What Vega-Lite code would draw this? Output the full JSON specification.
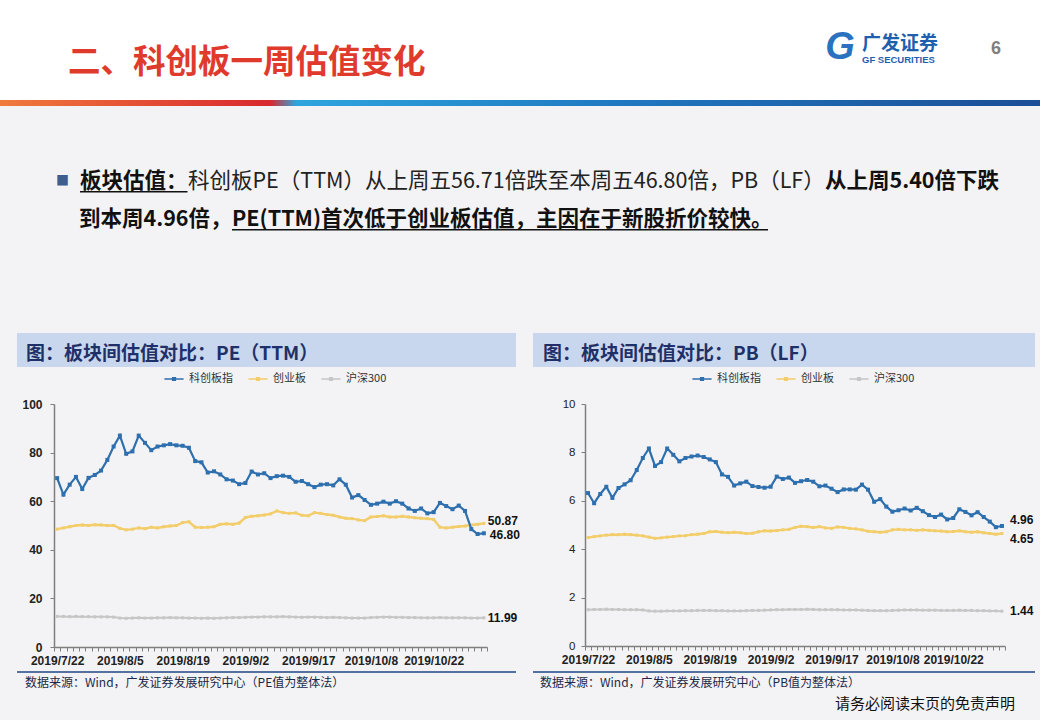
{
"$schema": "https://vega.github.io/schema/vega-lite/v6.json",
"background": "#f3f3f5",
"padding": {"left": 0, "top": 0, "right": 0, "bottom": 9.5},
"spacing": 0,
"resolve": {"scale": {"color": "independent"}, "legend": {"color": "independent"}},
"config": {"view": {"stroke": null}, "font": "Noto Sans CJK SC", "title": {"baseline": "top", "anchor": "start"}},
"datasets": {
"pe": [
{"d":"2019/7/22","科创板指":69.5,"创业板":48.5,"沪深300":12.6},
{"d":"2019/7/23","科创板指":62.7,"创业板":49.0,"沪深300":12.6},
{"d":"2019/7/24","科创板指":66.8,"创业板":49.5,"沪深300":12.5},
{"d":"2019/7/25","科创板指":70.0,"创业板":50.0,"沪深300":12.6},
{"d":"2019/7/26","科创板指":65.0,"创业板":50.2,"沪深300":12.5},
{"d":"2019/7/29","科创板指":69.6,"创业板":50.0,"沪深300":12.5},
{"d":"2019/7/30","科创板指":70.8,"创业板":50.3,"沪深300":12.4},
{"d":"2019/7/31","科创板指":72.6,"创业板":50.2,"沪深300":12.4},
{"d":"2019/8/1","科创板指":77.0,"创业板":50.0,"沪深300":12.4},
{"d":"2019/8/2","科创板指":82.5,"创业板":50.0,"沪深300":12.3},
{"d":"2019/8/5","科创板指":87.0,"创业板":48.8,"沪深300":11.9},
{"d":"2019/8/6","科创板指":79.5,"创业板":48.2,"沪深300":11.8},
{"d":"2019/8/7","科创板指":80.5,"创业板":48.5,"沪深300":11.9},
{"d":"2019/8/8","科创板指":87.0,"创业板":49.0,"沪深300":12.0},
{"d":"2019/8/9","科创板指":84.0,"创业板":48.7,"沪深300":11.9},
{"d":"2019/8/12","科创板指":81.0,"创业板":49.3,"沪深300":11.9},
{"d":"2019/8/13","科创板指":82.5,"创业板":49.0,"沪深300":12.0},
{"d":"2019/8/14","科创板指":83.0,"创业板":49.5,"沪深300":12.0},
{"d":"2019/8/15","科创板指":83.5,"创业板":49.8,"沪深300":12.1},
{"d":"2019/8/16","科创板指":83.0,"创业板":50.0,"沪深300":12.0},
{"d":"2019/8/19","科创板指":82.8,"创业板":51.2,"沪深300":12.0},
{"d":"2019/8/20","科创板指":82.0,"创业板":51.5,"沪深300":11.9},
{"d":"2019/8/21","科创板指":76.5,"创业板":49.3,"沪深300":11.9},
{"d":"2019/8/22","科创板指":76.0,"创业板":49.2,"沪深300":11.8},
{"d":"2019/8/23","科创板指":71.8,"创业板":49.3,"沪深300":11.9},
{"d":"2019/8/26","科创板指":72.3,"创业板":49.5,"沪深300":11.8},
{"d":"2019/8/27","科创板指":71.0,"创业板":50.5,"沪深300":11.9},
{"d":"2019/8/28","科创板指":69.0,"创业板":50.7,"沪深300":12.0},
{"d":"2019/8/29","科创板指":68.5,"创业板":50.5,"沪深300":12.1},
{"d":"2019/8/30","科创板指":67.0,"创业板":51.0,"沪深300":12.1},
{"d":"2019/9/2","科创板指":67.5,"创业板":53.3,"沪深300":12.2},
{"d":"2019/9/3","科创板指":72.2,"创业板":53.8,"沪深300":12.3},
{"d":"2019/9/4","科创板指":71.0,"创业板":54.0,"沪深300":12.3},
{"d":"2019/9/5","科创板指":71.5,"创业板":54.3,"沪深300":12.4},
{"d":"2019/9/6","科创板指":69.5,"创业板":54.8,"沪深300":12.4},
{"d":"2019/9/9","科创板指":70.3,"创业板":56.0,"沪深300":12.4},
{"d":"2019/9/10","科创板指":70.5,"创业板":55.3,"沪深300":12.5},
{"d":"2019/9/11","科创板指":70.0,"创业板":55.0,"沪深300":12.4},
{"d":"2019/9/12","科创板指":68.0,"创业板":55.2,"沪深300":12.3},
{"d":"2019/9/16","科创板指":68.3,"创业板":54.2,"沪深300":12.2},
{"d":"2019/9/17","科创板指":67.0,"创业板":54.0,"沪深300":12.3},
{"d":"2019/9/18","科创板指":65.8,"创业板":55.3,"沪深300":12.3},
{"d":"2019/9/19","科创板指":66.8,"创业板":55.0,"沪深300":12.2},
{"d":"2019/9/20","科创板指":67.0,"创业板":54.5,"沪深300":12.1},
{"d":"2019/9/23","科创板指":66.5,"创业板":54.2,"沪深300":12.2},
{"d":"2019/9/24","科创板指":69.0,"创业板":53.5,"沪深300":12.1},
{"d":"2019/9/25","科创板指":66.8,"创业板":53.0,"沪深300":12.0},
{"d":"2019/9/26","科创板指":61.5,"创业板":52.8,"沪深300":11.9},
{"d":"2019/9/27","科创板指":62.5,"创业板":52.3,"沪深300":11.9},
{"d":"2019/9/30","科创板指":60.5,"创业板":52.0,"沪深300":11.9},
{"d":"2019/10/8","科创板指":58.5,"创业板":53.5,"沪深300":12.1},
{"d":"2019/10/9","科创板指":59.0,"创业板":53.7,"沪深300":12.2},
{"d":"2019/10/10","科创板指":59.8,"创业板":54.0,"沪深300":12.3},
{"d":"2019/10/11","科创板指":59.0,"创业板":53.5,"沪深300":12.3},
{"d":"2019/10/14","科创板指":60.0,"创业板":53.5,"沪深300":12.2},
{"d":"2019/10/15","科创板指":59.0,"创业板":53.8,"沪深300":12.2},
{"d":"2019/10/16","科创板指":57.0,"创业板":53.5,"沪深300":12.1},
{"d":"2019/10/17","科创板指":56.0,"创业板":53.2,"沪深300":12.1},
{"d":"2019/10/18","科创板指":57.0,"创业板":53.0,"沪深300":12.0},
{"d":"2019/10/21","科创板指":55.0,"创业板":52.8,"沪深300":12.0},
{"d":"2019/10/22","科创板指":55.5,"创业板":52.5,"沪深300":12.0},
{"d":"2019/10/23","科创板指":59.3,"创业板":49.3,"沪深300":12.1},
{"d":"2019/10/24","科创板指":58.0,"创业板":49.0,"沪深300":12.0},
{"d":"2019/10/25","科创板指":56.71,"创业板":49.3,"沪深300":12.0},
{"d":"2019/10/28","科创板指":58.2,"创业板":49.6,"沪深300":12.0},
{"d":"2019/10/29","科创板指":56.0,"创业板":49.8,"沪深300":12.0},
{"d":"2019/10/30","科创板指":48.5,"创业板":50.2,"沪深300":11.9},
{"d":"2019/10/31","科创板指":46.5,"创业板":50.5,"沪深300":11.9},
{"d":"2019/11/1","科创板指":46.80,"创业板":50.87,"沪深300":11.99}
],
"pb": [
{"d":"2019/7/22","科创板指":6.32,"创业板":4.48,"沪深300":1.50},
{"d":"2019/7/23","科创板指":5.90,"创业板":4.52,"沪深300":1.51},
{"d":"2019/7/24","科创板指":6.28,"创业板":4.55,"沪深300":1.51},
{"d":"2019/7/25","科创板指":6.58,"创业板":4.58,"沪深300":1.52},
{"d":"2019/7/26","科创板指":6.12,"创业板":4.60,"沪深300":1.51},
{"d":"2019/7/29","科创板指":6.53,"创业板":4.60,"沪深300":1.51},
{"d":"2019/7/30","科创板指":6.68,"创业板":4.62,"沪深300":1.50},
{"d":"2019/7/31","科创板指":6.85,"创业板":4.60,"沪深300":1.50},
{"d":"2019/8/1","科创板指":7.27,"创业板":4.58,"沪深300":1.50},
{"d":"2019/8/2","科创板指":7.77,"创业板":4.55,"沪深300":1.49},
{"d":"2019/8/5","科创板指":8.16,"创业板":4.50,"沪深300":1.45},
{"d":"2019/8/6","科创板指":7.44,"创业板":4.45,"沪深300":1.44},
{"d":"2019/8/7","科创板指":7.60,"创业板":4.47,"沪深300":1.44},
{"d":"2019/8/8","科创板指":8.16,"创业板":4.50,"沪深300":1.45},
{"d":"2019/8/9","科创板指":7.90,"创业板":4.52,"沪深300":1.45},
{"d":"2019/8/12","科创板指":7.63,"创业板":4.55,"沪深300":1.45},
{"d":"2019/8/13","科创板指":7.77,"创业板":4.56,"沪深300":1.46},
{"d":"2019/8/14","科创板指":7.83,"创业板":4.60,"沪深300":1.46},
{"d":"2019/8/15","科创板指":7.87,"创业板":4.62,"沪深300":1.47},
{"d":"2019/8/16","科创板指":7.81,"创业板":4.65,"沪深300":1.47},
{"d":"2019/8/19","科创板指":7.71,"创业板":4.72,"沪深300":1.47},
{"d":"2019/8/20","科创板指":7.60,"创业板":4.73,"沪深300":1.46},
{"d":"2019/8/21","科创板指":7.09,"创业板":4.70,"沪深300":1.46},
{"d":"2019/8/22","科创板指":6.99,"创业板":4.68,"沪深300":1.45},
{"d":"2019/8/23","科创板指":6.63,"创业板":4.70,"沪深300":1.45},
{"d":"2019/8/26","科创板指":6.72,"创业板":4.68,"沪深300":1.45},
{"d":"2019/8/27","科创板指":6.79,"创业板":4.65,"沪深300":1.46},
{"d":"2019/8/28","科创板指":6.61,"创业板":4.66,"沪深300":1.47},
{"d":"2019/8/29","科创板指":6.57,"创业板":4.72,"沪深300":1.47},
{"d":"2019/8/30","科创板指":6.54,"创业板":4.76,"沪深300":1.48},
{"d":"2019/9/2","科创板指":6.58,"创业板":4.75,"沪深300":1.49},
{"d":"2019/9/3","科创板指":7.00,"创业板":4.77,"沪深300":1.50},
{"d":"2019/9/4","科创板指":6.90,"创业板":4.80,"沪深300":1.50},
{"d":"2019/9/5","科创板指":6.96,"创业板":4.82,"沪深300":1.51},
{"d":"2019/9/6","科创板指":6.74,"创业板":4.90,"沪深300":1.51},
{"d":"2019/9/9","科创板指":6.81,"创业板":4.95,"沪深300":1.51},
{"d":"2019/9/10","科创板指":6.86,"创业板":4.93,"沪深300":1.52},
{"d":"2019/9/11","科创板指":6.79,"创业板":4.90,"沪深300":1.51},
{"d":"2019/9/12","科创板指":6.60,"创业板":4.93,"沪深300":1.50},
{"d":"2019/9/16","科创板指":6.63,"创业板":4.88,"沪深300":1.50},
{"d":"2019/9/17","科创板指":6.50,"创业板":4.86,"沪深300":1.50},
{"d":"2019/9/18","科创板指":6.36,"创业板":4.92,"沪深300":1.50},
{"d":"2019/9/19","科创板指":6.47,"创业板":4.90,"沪深300":1.49},
{"d":"2019/9/20","科创板指":6.47,"创业板":4.86,"沪深300":1.49},
{"d":"2019/9/23","科创板指":6.46,"创业板":4.84,"沪深300":1.49},
{"d":"2019/9/24","科创板指":6.67,"创业板":4.80,"沪深300":1.48},
{"d":"2019/9/25","科创板指":6.46,"创业板":4.74,"沪深300":1.47},
{"d":"2019/9/26","科创板指":5.96,"创业板":4.72,"沪深300":1.46},
{"d":"2019/9/27","科创板指":6.07,"创业板":4.70,"沪深300":1.46},
{"d":"2019/9/30","科创板指":5.76,"创业板":4.72,"沪深300":1.46},
{"d":"2019/10/8","科创板指":5.55,"创业板":4.80,"沪深300":1.47},
{"d":"2019/10/9","科创板指":5.61,"创业板":4.82,"沪深300":1.48},
{"d":"2019/10/10","科创板指":5.68,"创业板":4.80,"沪深300":1.49},
{"d":"2019/10/11","科创板指":5.60,"创业板":4.80,"沪深300":1.49},
{"d":"2019/10/14","科创板指":5.71,"创业板":4.78,"沪深300":1.49},
{"d":"2019/10/15","科创板指":5.57,"创业板":4.80,"沪深300":1.48},
{"d":"2019/10/16","科创板指":5.41,"创业板":4.78,"沪深300":1.48},
{"d":"2019/10/17","科创板指":5.33,"创业板":4.76,"沪深300":1.48},
{"d":"2019/10/18","科创板指":5.43,"创业板":4.75,"沪深300":1.47},
{"d":"2019/10/21","科创板指":5.23,"创业板":4.72,"沪深300":1.47},
{"d":"2019/10/22","科创板指":5.29,"创业板":4.73,"沪深300":1.47},
{"d":"2019/10/23","科创板指":5.65,"创业板":4.76,"沪深300":1.48},
{"d":"2019/10/24","科创板指":5.54,"创业板":4.72,"沪深300":1.47},
{"d":"2019/10/25","科创板指":5.40,"创业板":4.70,"沪深300":1.47},
{"d":"2019/10/28","科创板指":5.53,"创业板":4.72,"沪深300":1.46},
{"d":"2019/10/29","科创板指":5.33,"创业板":4.68,"沪深300":1.46},
{"d":"2019/10/30","科创板指":5.14,"创业板":4.65,"沪深300":1.45},
{"d":"2019/10/31","科创板指":4.91,"创业板":4.62,"沪深300":1.45},
{"d":"2019/11/1","科创板指":4.96,"创业板":4.65,"沪深300":1.44}
]
},
"vconcat": [
{"hconcat": [
 {"width": 823, "height": 100, "data": {"values": [{}]}, "mark": {"type": "rect", "fill": "#ffffff"}, "encoding": {},
  "title": {"text": "二、科创板一周估值变化", "anchor": "start", "offset": -79.5, "dx": 68, "fontSize": 32.5, "fontWeight": "bold", "color": "#e03a2c", "font": "Noto Sans CJK SC"}},
 {"width": 34, "height": 100, "data": {"values": [{"g": "G"}]},
  "layer": [
   {"mark": {"type": "rect", "fill": "#ffffff"}, "encoding": {}},
   {"mark": {"type": "text", "font": "Liberation Sans", "fontWeight": "bold", "fontStyle": "italic", "fontSize": 38, "dy": -2, "color": "#2a72c0"}, "encoding": {"text": {"field": "g"}}}
  ]},
 {"width": 93, "height": 100, "data": {"values": [{}]}, "mark": {"type": "rect", "fill": "#ffffff"}, "encoding": {},
  "title": {"text": "广发证券", "subtitle": "GF SECURITIES", "anchor": "start", "offset": -64, "dx": 5, "fontSize": 19, "fontWeight": "bold", "color": "#1f5fae", "font": "Noto Sans CJK SC", "subtitleFont": "Liberation Sans", "subtitleFontSize": 9.5, "subtitleFontWeight": "bold", "subtitleColor": "#1f5fae", "subtitlePadding": 1}},
 {"width": 90, "height": 100, "data": {"values": [{}]}, "mark": {"type": "rect", "fill": "#ffffff"}, "encoding": {},
  "title": {"text": "6", "anchor": "start", "offset": -58, "dx": 41, "fontSize": 18, "fontWeight": "bold", "color": "#7f7f7f", "font": "Liberation Sans"}}
], "spacing": 0},
{"width": 1040, "height": 6, "data": {"values": [{}]}, "mark": {"type": "rect", "fill": {"gradient": "linear", "x1": 0, "y1": 0, "x2": 1, "y2": 0, "stops": [{"offset": 0, "color": "#f07a3c"}, {"offset": 0.26, "color": "#d8282e"}, {"offset": 0.285, "color": "#2ea5de"}, {"offset": 0.6, "color": "#1f78c0"}, {"offset": 1, "color": "#1b4e96"}]}}, "encoding": {}},
{"width": 1040, "height": 63.1, "data": {"values": [{}]}, "mark": {"type": "rect", "opacity": 0}, "encoding": {}},
{"hconcat": [
 {"width": 56, "height": 1, "data": {"values": [{}]}, "mark": {"type": "rect", "opacity": 0}, "encoding": {}},
 {"width": 1, "height": 1.5, "data": {"values": [{}]}, "mark": {"type": "rect", "opacity": 0}, "encoding": {},
  "title": {"text": "■", "anchor": "start", "offset": 3.2, "fontSize": 13, "fontWeight": "normal", "color": "#3e5e92", "font": "Noto Sans CJK SC"}},
 {"width": 10, "height": 1, "data": {"values": [{}]}, "mark": {"type": "rect", "opacity": 0}, "encoding": {}},
 {"width": 107.5, "height": 1.5, "data": {"values": [{}]}, "mark": {"type": "rect", "fill": "#111111"}, "encoding": {},
  "title": {"text": "板块估值：", "anchor": "start", "offset": -1, "fontSize": 21.5, "fontWeight": "bold", "color": "#111111", "font": "Noto Sans CJK SC"}},
 {"width": 1, "height": 1.5, "data": {"values": [{}]}, "mark": {"type": "rect", "opacity": 0}, "encoding": {},
  "title": {"text": "科创板PE（TTM）从上周五56.71倍跌至本周五46.80倍，PB（LF）", "anchor": "start", "offset": -1, "fontSize": 21.5, "fontWeight": "normal", "color": "#222222", "font": "Noto Sans CJK SC"}},
 {"width": 1, "height": 1.5, "data": {"values": [{}]}, "mark": {"type": "rect", "opacity": 0}, "encoding": {},
  "title": {"text": "从上周5.40倍下跌", "anchor": "start", "offset": -1, "fontSize": 21.5, "fontWeight": "bold", "color": "#111111", "font": "Noto Sans CJK SC"}}
], "spacing": 0},
{"width": 10, "height": 15, "data": {"values": [{}]}, "mark": {"type": "rect", "opacity": 0}, "encoding": {}},
{"hconcat": [
 {"width": 79, "height": 1, "data": {"values": [{}]}, "mark": {"type": "rect", "opacity": 0}, "encoding": {}},
 {"width": 1, "height": 1.5, "data": {"values": [{}]}, "mark": {"type": "rect", "opacity": 0}, "encoding": {},
  "title": {"text": "到本周4.96倍，", "anchor": "start", "offset": -1, "fontSize": 21.5, "fontWeight": "bold", "color": "#111111", "font": "Noto Sans CJK SC"}},
 {"width": 536, "height": 1.5, "data": {"values": [{}]}, "mark": {"type": "rect", "fill": "#111111"}, "encoding": {},
  "title": {"text": "PE(TTM)首次低于创业板估值，主因在于新股折价较快。", "anchor": "start", "offset": -1, "fontSize": 21.5, "fontWeight": "bold", "color": "#111111", "font": "Noto Sans CJK SC"}}
], "spacing": 0},
{"width": 10, "height": 102, "data": {"values": [{}]}, "mark": {"type": "rect", "opacity": 0}, "encoding": {}},
{"hconcat": [
 {"width": 17, "height": 1, "data": {"values": [{}]}, "mark": {"type": "rect", "opacity": 0}, "encoding": {}},
 {"width": 499, "height": 34, "data": {"values": [{}]}, "mark": {"type": "rect", "fill": "#c9d7ee"}, "encoding": {},
  "title": {"text": "图：板块间估值对比：PE（TTM）", "anchor": "start", "offset": -30.5, "dx": 9, "fontSize": 19, "fontWeight": "bold", "color": "#1f3068", "font": "Noto Sans CJK SC"}},
 {"width": 17, "height": 1, "data": {"values": [{}]}, "mark": {"type": "rect", "opacity": 0}, "encoding": {}},
 {"width": 502, "height": 34, "data": {"values": [{}]}, "mark": {"type": "rect", "fill": "#c9d7ee"}, "encoding": {},
  "title": {"text": "图：板块间估值对比：PB（LF）", "anchor": "start", "offset": -30.5, "dx": 10, "fontSize": 19, "fontWeight": "bold", "color": "#1f3068", "font": "Noto Sans CJK SC"}}
], "spacing": 0},
{"width": 10, "height": 5, "data": {"values": [{}]}, "mark": {"type": "rect", "opacity": 0}, "encoding": {}},
{"hconcat": [
  {"width": 17, "height": 1, "data": {"values": [{}]}, "mark": {"type": "rect", "opacity": 0}, "encoding": {}},
  {"width": 433, "height": 243,
   "data": {"name": "pe"},
   "transform": [{"fold": ["科创板指", "创业板", "沪深300"], "as": ["s", "v"]}],
   "encoding": {
    "x": {"field": "d", "type": "nominal",
      "scale": {"type": "band", "paddingInner": 0, "paddingOuter": 0, "domain": ["2019/7/22","2019/7/23","2019/7/24","2019/7/25","2019/7/26","2019/7/29","2019/7/30","2019/7/31","2019/8/1","2019/8/2","2019/8/5","2019/8/6","2019/8/7","2019/8/8","2019/8/9","2019/8/12","2019/8/13","2019/8/14","2019/8/15","2019/8/16","2019/8/19","2019/8/20","2019/8/21","2019/8/22","2019/8/23","2019/8/26","2019/8/27","2019/8/28","2019/8/29","2019/8/30","2019/9/2","2019/9/3","2019/9/4","2019/9/5","2019/9/6","2019/9/9","2019/9/10","2019/9/11","2019/9/12","2019/9/16","2019/9/17","2019/9/18","2019/9/19","2019/9/20","2019/9/23","2019/9/24","2019/9/25","2019/9/26","2019/9/27","2019/9/30","2019/10/8","2019/10/9","2019/10/10","2019/10/11","2019/10/14","2019/10/15","2019/10/16","2019/10/17","2019/10/18","2019/10/21","2019/10/22","2019/10/23","2019/10/24","2019/10/25","2019/10/28","2019/10/29","2019/10/30","2019/10/31","2019/11/1"]},
      "axis": {"title": null, "labelExpr": "indexof(['2019/7/22','2019/8/5','2019/8/19','2019/9/2','2019/9/17','2019/10/8','2019/10/22'], datum.value) >= 0 ? datum.value : ''", "labelAngle": 0, "labelOverlap": false, "labelFlush": false, "tickBand": "extent", "tickSize": 4, "labelPadding": 4, "labelFont": "Liberation Sans", "labelFontWeight": "bold", "labelFontSize": 12, "labelColor": "#222222", "domainColor": "#7f7f7f", "tickColor": "#7f7f7f", "domainWidth": 1.5, "grid": false}},
    "y": {"field": "v", "type": "quantitative", "scale": {"domain": [0, 100], "nice": false},
      "axis": {"title": null, "values": [0, 20, 40, 60, 80, 100], "grid": false, "tickSize": 4, "labelPadding": 8, "labelFont": "Liberation Sans", "labelFontWeight": "bold", "labelFontSize": 12, "labelColor": "#222222", "domainColor": "#7f7f7f", "tickColor": "#7f7f7f", "domainWidth": 1.5, "minExtent": 37, "maxExtent": 37}},
    "color": {"field": "s", "type": "nominal", "scale": {"domain": ["科创板指", "创业板", "沪深300"], "range": ["#2e6fae", "#f2cd6a", "#c6c6c6"]},
      "legend": {"orient": "none", "legendX": 113, "legendY": -32, "direction": "horizontal", "title": null, "symbolType": "M-1.6,0H1.6M-0.22,-0.22H0.22V0.22H-0.22Z", "symbolSize": 144, "symbolStrokeWidth": 1.6, "labelFont": "Noto Sans CJK SC", "labelFontSize": 11, "labelColor": "#333333", "columnPadding": 12, "labelOffset": 8}}
   },
   "layer": [
    {"transform": [{"filter": "datum.s === '沪深300'"}], "mark": {"type": "line", "strokeWidth": 2, "point": {"shape": "square", "size": 9, "filled": true}}},
    {"transform": [{"filter": "datum.s === '创业板'"}], "mark": {"type": "line", "strokeWidth": 2.4, "point": {"shape": "square", "size": 9, "filled": true}}},
    {"transform": [{"filter": "datum.s === '科创板指'"}], "mark": {"type": "line", "strokeWidth": 2.2, "point": {"shape": "square", "size": 16, "filled": true}}},
    {"transform": [{"filter": "datum.d === '2019/11/1' && datum.s === '沪深300'"}], "mark": {"type": "text", "align": "left", "baseline": "middle", "dx": 4, "font": "Liberation Sans", "fontWeight": "bold", "fontSize": 12},
     "encoding": {"text": {"field": "v", "type": "quantitative", "format": ".2f"}, "color": {"value": "#111111"}}},
    {"transform": [{"filter": "datum.d === '2019/11/1' && datum.s === '创业板'"}], "mark": {"type": "text", "align": "left", "baseline": "middle", "dx": 4, "dy": -2, "font": "Liberation Sans", "fontWeight": "bold", "fontSize": 12},
     "encoding": {"text": {"field": "v", "type": "quantitative", "format": ".2f"}, "color": {"value": "#111111"}}},
    {"transform": [{"filter": "datum.d === '2019/11/1' && datum.s === '科创板指'"}], "mark": {"type": "text", "align": "left", "baseline": "middle", "dx": 6, "dy": 1.5, "font": "Liberation Sans", "fontWeight": "bold", "fontSize": 12},
     "encoding": {"text": {"field": "v", "type": "quantitative", "format": ".2f"}, "color": {"value": "#111111"}}}
   ]
  },
  {"width": 15, "height": 1, "data": {"values": [{}]}, "mark": {"type": "rect", "opacity": 0}, "encoding": {}},
  {"width": 420, "height": 242,
   "data": {"name": "pb"},
   "transform": [{"fold": ["科创板指", "创业板", "沪深300"], "as": ["s", "v"]}],
   "encoding": {
    "x": {"field": "d", "type": "nominal",
      "scale": {"type": "band", "paddingInner": 0, "paddingOuter": 0, "domain": ["2019/7/22","2019/7/23","2019/7/24","2019/7/25","2019/7/26","2019/7/29","2019/7/30","2019/7/31","2019/8/1","2019/8/2","2019/8/5","2019/8/6","2019/8/7","2019/8/8","2019/8/9","2019/8/12","2019/8/13","2019/8/14","2019/8/15","2019/8/16","2019/8/19","2019/8/20","2019/8/21","2019/8/22","2019/8/23","2019/8/26","2019/8/27","2019/8/28","2019/8/29","2019/8/30","2019/9/2","2019/9/3","2019/9/4","2019/9/5","2019/9/6","2019/9/9","2019/9/10","2019/9/11","2019/9/12","2019/9/16","2019/9/17","2019/9/18","2019/9/19","2019/9/20","2019/9/23","2019/9/24","2019/9/25","2019/9/26","2019/9/27","2019/9/30","2019/10/8","2019/10/9","2019/10/10","2019/10/11","2019/10/14","2019/10/15","2019/10/16","2019/10/17","2019/10/18","2019/10/21","2019/10/22","2019/10/23","2019/10/24","2019/10/25","2019/10/28","2019/10/29","2019/10/30","2019/10/31","2019/11/1"]},
      "axis": {"title": null, "labelExpr": "indexof(['2019/7/22','2019/8/5','2019/8/19','2019/9/2','2019/9/17','2019/10/8','2019/10/22'], datum.value) >= 0 ? datum.value : ''", "labelAngle": 0, "labelOverlap": false, "labelFlush": false, "tickBand": "extent", "tickSize": 4, "labelPadding": 4, "labelFont": "Liberation Sans", "labelFontWeight": "bold", "labelFontSize": 12, "labelColor": "#222222", "domainColor": "#7f7f7f", "tickColor": "#7f7f7f", "domainWidth": 1.5, "grid": false}},
    "y": {"field": "v", "type": "quantitative", "scale": {"domain": [0, 10], "nice": false},
      "axis": {"title": null, "values": [0, 2, 4, 6, 8, 10], "grid": false, "tickSize": 4, "labelPadding": 6, "labelFont": "Liberation Sans", "labelFontWeight": "normal", "labelFontSize": 11.5, "labelColor": "#222222", "domainColor": "#7f7f7f", "tickColor": "#7f7f7f", "domainWidth": 1.5, "minExtent": 50, "maxExtent": 50}},
    "color": {"field": "s", "type": "nominal", "scale": {"domain": ["科创板指", "创业板", "沪深300"], "range": ["#2e6fae", "#f2cd6a", "#c6c6c6"]},
      "legend": {"orient": "none", "legendX": 110, "legendY": -32, "direction": "horizontal", "title": null, "symbolType": "M-1.6,0H1.6M-0.22,-0.22H0.22V0.22H-0.22Z", "symbolSize": 144, "symbolStrokeWidth": 1.6, "labelFont": "Noto Sans CJK SC", "labelFontSize": 11, "labelColor": "#333333", "columnPadding": 12, "labelOffset": 8}}
   },
   "layer": [
    {"transform": [{"filter": "datum.s === '沪深300'"}], "mark": {"type": "line", "strokeWidth": 2, "point": {"shape": "square", "size": 9, "filled": true}}},
    {"transform": [{"filter": "datum.s === '创业板'"}], "mark": {"type": "line", "strokeWidth": 2.4, "point": {"shape": "square", "size": 9, "filled": true}}},
    {"transform": [{"filter": "datum.s === '科创板指'"}], "mark": {"type": "line", "strokeWidth": 2.2, "point": {"shape": "square", "size": 16, "filled": true}}},
    {"transform": [{"filter": "datum.d === '2019/11/1' && datum.s === '沪深300'"}], "mark": {"type": "text", "align": "left", "baseline": "middle", "dx": 8, "font": "Liberation Sans", "fontWeight": "bold", "fontSize": 12},
     "encoding": {"text": {"field": "v", "type": "quantitative", "format": ".2f"}, "color": {"value": "#111111"}}},
    {"transform": [{"filter": "datum.d === '2019/11/1' && datum.s === '创业板'"}], "mark": {"type": "text", "align": "left", "baseline": "middle", "dx": 8, "dy": 6, "font": "Liberation Sans", "fontWeight": "bold", "fontSize": 12},
     "encoding": {"text": {"field": "v", "type": "quantitative", "format": ".2f"}, "color": {"value": "#111111"}}},
    {"transform": [{"filter": "datum.d === '2019/11/1' && datum.s === '科创板指'"}], "mark": {"type": "text", "align": "left", "baseline": "middle", "dx": 8, "dy": -6, "font": "Liberation Sans", "fontWeight": "bold", "fontSize": 12},
     "encoding": {"text": {"field": "v", "type": "quantitative", "format": ".2f"}, "color": {"value": "#111111"}}}
   ]
  }
], "spacing": 0, "resolve": {"scale": {"color": "independent"}, "legend": {"color": "independent"}}},
{"width": 10, "height": 5, "data": {"values": [{}]}, "mark": {"type": "rect", "opacity": 0}, "encoding": {}},
{"hconcat": [
 {"width": 17, "height": 1, "data": {"values": [{}]}, "mark": {"type": "rect", "opacity": 0}, "encoding": {}},
 {"width": 499, "height": 2, "data": {"values": [{}]}, "mark": {"type": "rect", "fill": "#55719f"}, "encoding": {},
  "title": {"text": "数据来源：Wind，广发证券发展研究中心（PE值为整体法）", "orient": "bottom", "anchor": "start", "offset": 5, "dx": 8, "fontSize": 12, "fontWeight": "normal", "color": "#1c2848", "font": "Noto Sans CJK SC"}},
 {"width": 17, "height": 1, "data": {"values": [{}]}, "mark": {"type": "rect", "opacity": 0}, "encoding": {}},
 {"width": 502, "height": 2, "data": {"values": [{}]}, "mark": {"type": "rect", "fill": "#55719f"}, "encoding": {},
  "title": {"text": "数据来源：Wind，广发证券发展研究中心（PB值为整体法）", "orient": "bottom", "anchor": "start", "offset": 5, "dx": 7, "fontSize": 12, "fontWeight": "normal", "color": "#1c2848", "font": "Noto Sans CJK SC"}}
], "spacing": 0},
{"width": 1040, "height": 1, "data": {"values": [{}]}, "mark": {"type": "rect", "opacity": 0}, "encoding": {},
 "title": {"text": "请务必阅读末页的免责声明", "orient": "bottom", "anchor": "start", "offset": 7, "dx": 835, "fontSize": 15, "fontWeight": "normal", "color": "#111111", "font": "Noto Sans CJK SC"}}
]
}
